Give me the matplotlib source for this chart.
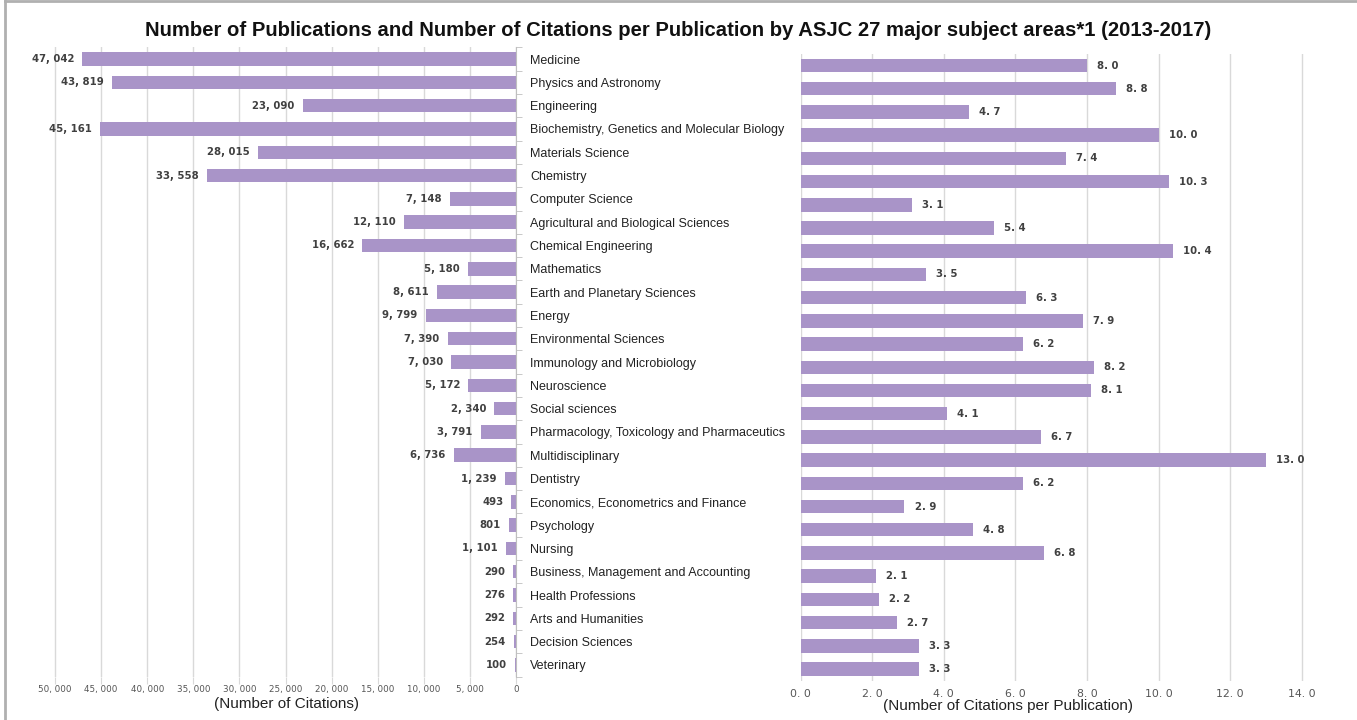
import numpy as np
import matplotlib
matplotlib.use('Agg')
import matplotlib.pyplot as plt
from matplotlib.lines import Line2D

plt.rcParams['font.family'] = ['Liberation Sans', 'DejaVu Sans']

# data
subjects = ['Medicine', 'Physics and Astronomy', 'Engineering',
            'Biochemistry, Genetics and Molecular Biology', 'Materials Science',
            'Chemistry', 'Computer Science', 'Agricultural and Biological Sciences',
            'Chemical Engineering', 'Mathematics', 'Earth and Planetary Sciences',
            'Energy', 'Environmental Sciences', 'Immunology and Microbiology',
            'Neuroscience', 'Social sciences',
            'Pharmacology, Toxicology and Pharmaceutics', 'Multidisciplinary',
            'Dentistry', 'Economics, Econometrics and Finance', 'Psychology',
            'Nursing', 'Business, Management and Accounting', 'Health Professions',
            'Arts and Humanities', 'Decision Sciences', 'Veterinary']
citations = [47042, 43819, 23090, 45161, 28015, 33558, 7148, 12110, 16662,
             5180, 8611, 9799, 7390, 7030, 5172, 2340, 3791, 6736, 1239,
             493, 801, 1101, 290, 276, 292, 254, 100]
per_pub = [8.0, 8.8, 4.7, 10.0, 7.4, 10.3, 3.1, 5.4, 10.4, 3.5, 6.3, 7.9,
           6.2, 8.2, 8.1, 4.1, 6.7, 13.0, 6.2, 2.9, 4.8, 6.8, 2.1, 2.2,
           2.7, 3.3, 3.3]
left_ticks = np.arange(0, 50001, 5000)
right_ticks = np.arange(0, 14.1, 2)

BAR = '#a994c8'
GRID = '#d9d9d9'
W, H = 1357, 720
NUMFONT = 'DejaVu Sans'

fig = plt.figure(figsize=(W / 100, H / 100), dpi=100)
y = np.arange(len(subjects))

# left panel: number of citations
ax1 = fig.add_axes([9 / W, 1 - 676.6 / H, 507 / W, (676.6 - 47.4) / H])
ax1.barh(y, citations, height=0.58, color=BAR, zorder=2)
ax1.set_xlim(55000, 0)
ax1.set_ylim(len(subjects) - 0.5, -0.5)
ax1.set_xticks(left_ticks)
ax1.set_xticklabels([f'{v:,}'.replace(',', ', ') for v in left_ticks],
                    fontsize=6.3, color='#555555', family=NUMFONT)
ax1.tick_params(axis='x', length=5, color=GRID, pad=1)
ax1.grid(axis='x', color=GRID, lw=1, zorder=0)
for s in ['left', 'top', 'bottom']:
    ax1.spines[s].set_visible(False)
ax1.spines['right'].set_color('#bfbfbf')
ax1.yaxis.tick_right()
ax1.set_yticks(y)
ax1.set_yticklabels(subjects, fontsize=9, color='#222222')
ax1.tick_params(axis='y', which='major', length=0, pad=10)
ax1.set_yticks(np.arange(-0.5, len(subjects)), minor=True)
ax1.tick_params(axis='y', which='minor', length=4, color='#bfbfbf')
for yi, v in zip(y, citations):
    ax1.text(v + 900, yi, f'{v:,}'.replace(',', ', '), ha='right', va='center',
             fontsize=7.3, fontweight='bold', color='#404040', family=NUMFONT)

# right panel: citations per publication
ax2 = fig.add_axes([800.7 / W, 1 - 680.6 / H, 553 / W, (680.6 - 53.9) / H])
ax2.barh(y, per_pub, height=0.58, color=BAR, zorder=2)
ax2.set_xlim(0, 15.45)
ax2.set_ylim(len(subjects) - 0.5, -0.5)
ax2.set_xticks(right_ticks)
ax2.set_xticklabels([f'{v:.1f}'.replace('.', '. ') for v in right_ticks],
                    fontsize=7.8, color='#555555', family=NUMFONT)
ax2.tick_params(axis='x', length=0, pad=6)
ax2.set_yticks([])
ax2.grid(axis='x', color=GRID, lw=1, zorder=0)
for s in ax2.spines.values():
    s.set_visible(False)
for yi, v in zip(y, per_pub):
    ax2.text(v + 0.28, yi, f'{v:.1f}'.replace('.', '. '), ha='left', va='center',
             fontsize=7.3, fontweight='bold', color='#404040', family=NUMFONT)

fig.text(0.5, 1 - 30 / H,
         'Number of Publications and Number of Citations per Publication by ASJC 27 major subject areas*1 (2013-2017)',
         ha='center', va='center', fontsize=14.6, fontweight='bold', color='#111111')
fig.text(287 / W, 1 - 704 / H, '(Number of Citations)', ha='center', va='center',
         fontsize=11, color='#222222')
fig.text(1008 / W, 1 - 706 / H, '(Number of Citations per Publication)', ha='center',
         va='center', fontsize=11, color='#222222')

# frame: top and left edges
fig.add_artist(Line2D([5 / W, 1], [1 - 1 / H, 1 - 1 / H], transform=fig.transFigure,
                      color='#b0b0b0', lw=2))
fig.add_artist(Line2D([5 / W, 5 / W], [0, 1 - 1 / H], transform=fig.transFigure,
                      color='#b0b0b0', lw=2))

fig.savefig('out.png', dpi=100)
